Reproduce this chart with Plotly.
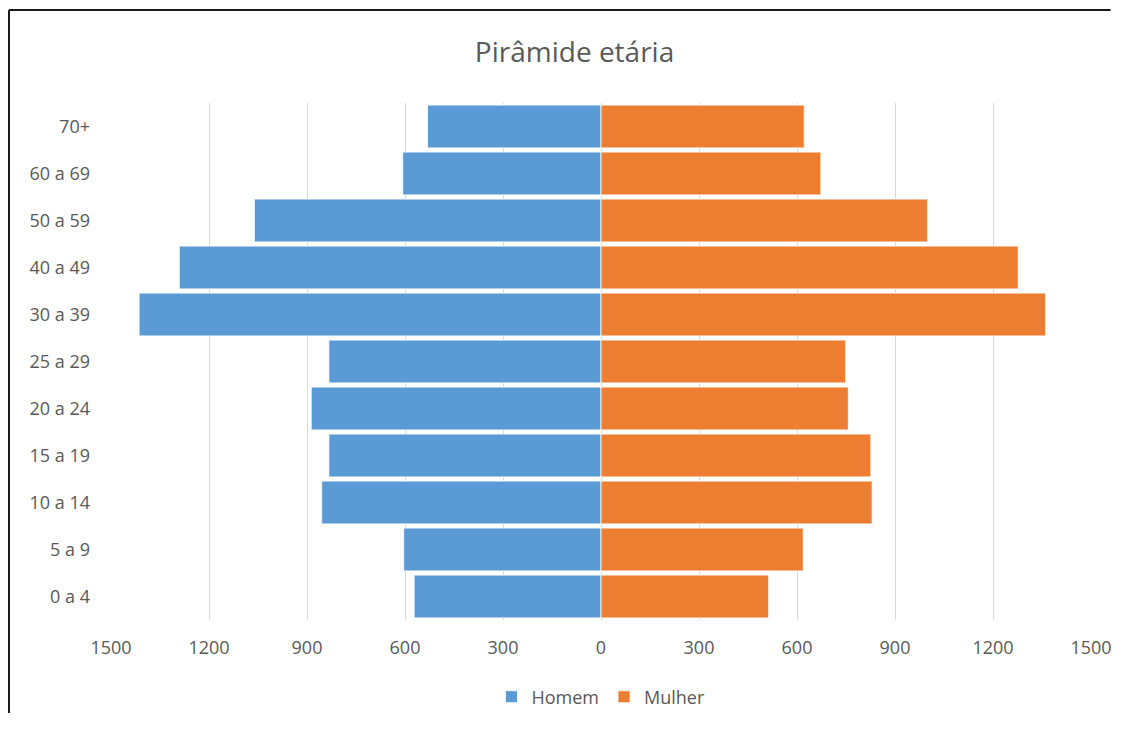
import plotly.graph_objects as go

# Faixas etárias (de baixo para cima)
faixas = ["0 a 4", "5 a 9", "10 a 14", "15 a 19", "20 a 24", "25 a 29",
          "30 a 39", "40 a 49", "50 a 59", "60 a 69", "70+"]
homem = [572, 604, 855, 833, 887, 833, 1414, 1291, 1061, 607, 531]
mulher = [513, 619, 830, 826, 757, 749, 1361, 1277, 1000, 673, 622]

ticks = [-1500, -1200, -900, -600, -300, 0, 300, 600, 900, 1200, 1500]
tick_text = [str(abs(t)) for t in ticks]

fig = go.Figure()

fig.add_trace(go.Bar(
    y=faixas, x=[-v for v in homem], name="Homem", orientation="h",
    marker=dict(color="#5B9BD5", line=dict(color="white", width=0.8)),
    customdata=homem, hovertemplate="%{y}: %{customdata}<extra>Homem</extra>"
))
fig.add_trace(go.Bar(
    y=faixas, x=mulher, name="Mulher", orientation="h",
    marker=dict(color="#ED7D31", line=dict(color="white", width=0.8)),
    hovertemplate="%{y}: %{x}<extra>Mulher</extra>"
))

# Moldura do gráfico (linhas superior e esquerda), dentro da figura
frame = dict(type="line", xref="paper", yref="paper",
             line=dict(color="#1a1a1a", width=2), layer="above")
fig.add_shape(x0=-0.1041, x1=1.02, y0=1.18, y1=1.18, **frame)
fig.add_shape(x0=-0.1041, x1=-0.1041, y0=1.18, y1=-0.18, **frame)

fig.update_layout(
    width=1110, height=708,
    title=dict(text="Pirâmide etária", x=0.5104, xref="container", xanchor="center",
               y=0.9379, yref="container", yanchor="middle",
               font=dict(size=28, color="#595959", family="Open Sans")),
    barmode="relative",
    bargap=0.09,
    xaxis=dict(range=[-1500, 1500], tickvals=ticks, ticktext=tick_text,
               showgrid=True, gridcolor="#D9D9D9", gridwidth=1, zeroline=False,
               tickfont=dict(size=18, color="#595959"), ticks="", ticklabelstandoff=15,
               fixedrange=True, automargin=False),
    yaxis=dict(showgrid=False, zeroline=False, ticks="", automargin=False,
               tickfont=dict(size=18, color="#595959"), ticklabelstandoff=20),
    legend=dict(orientation="h", x=0.5, xanchor="center",
                y=0.0268, yref="container", yanchor="middle",
                font=dict(size=18, color="#595959"), itemwidth=30, traceorder="normal"),
    margin=dict(l=103, r=27, t=95, b=96),
    paper_bgcolor="white",
    plot_bgcolor="white",
    font=dict(family="Open Sans", color="#595959"),
)

fig.write_html("out.html")
